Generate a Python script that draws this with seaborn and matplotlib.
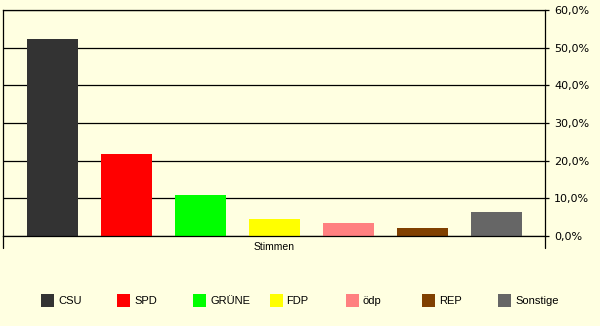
import matplotlib
matplotlib.use("Agg")
import matplotlib.pyplot as plt
import seaborn as sns
import pandas as pd
from matplotlib.patches import Rectangle
from matplotlib.lines import Line2D

# ---- data ----
parties = ["CSU", "SPD", "GRÜNE", "FDP", "ödp", "REP", "Sonstige"]
values = [52.2, 21.7, 11.0, 4.6, 3.5, 2.0, 6.3]
colors = ["#333333", "#FF0000", "#00FF00", "#FFFF00", "#FF8080", "#804000", "#666666"]
category = "Stimmen"
yticks = [0, 10, 20, 30, 40, 50, 60]
ytick_labels = [f"{v:.1f}".replace(".", ",") + "%" for v in yticks]

W, H = 600, 326
bg = "#FFFFE1"

sns.set_theme(style="white")
plt.rcParams['font.family'] = ['Liberation Sans', 'DejaVu Sans']

fig = plt.figure(figsize=(W / 100, H / 100), dpi=100, facecolor=bg)
ax = fig.add_axes([3 / W, 1 - 236 / H, 542 / W, 226 / H])
ax.set_facecolor(bg)

df = pd.DataFrame({"Partei": parties, "Anteil": values})
sns.barplot(data=df, x="Partei", y="Anteil", hue="Partei", palette=colors,
            dodge=False, width=51 / 74, legend=False, saturation=1,
            linewidth=0, ax=ax)

ax.set_xlim(-49.5 / 74, 6 + 48.5 / 74)
ax.set_ylim(0, 60)
ax.set_axisbelow(True)
ax.yaxis.grid(True, color="black", lw=0.9)
ax.xaxis.grid(False)

for s in ax.spines.values():
    s.set_visible(True)
    s.set_color("black")
    s.set_linewidth(0.9)

ax.yaxis.tick_right()
ax.set_yticks(yticks)
ax.set_yticklabels(ytick_labels, family=["DejaVu Sans"])
ax.tick_params(axis="y", direction="out", length=3, width=0.9, color="black",
               pad=3.5, labelsize=8, labelcolor="black", right=True, left=False)
ax.set_xticks([])
ax.set_ylabel("")
ax.set_xlabel(category, fontsize=7.5, color="black", labelpad=4)

# extend vertical edge lines below the category axis
for xa in (0, 1):
    ax.add_line(Line2D([xa, xa], [0, -12 / 226], transform=ax.transAxes,
                       color="black", lw=0.9, clip_on=False))

# legend
for i, (name, c) in enumerate(zip(parties, colors)):
    x = 41 + i * 76.17
    fig.add_artist(Rectangle((x / W, 1 - 307 / H), 13 / W, 13 / H,
                             transform=fig.transFigure, facecolor=c, edgecolor="none"))
    fig.text((x + 17) / W, 1 - 300.5 / H, name, fontsize=8, color="black",
             va="center", ha="left")

fig.savefig("out.png", dpi=100, facecolor=bg)
